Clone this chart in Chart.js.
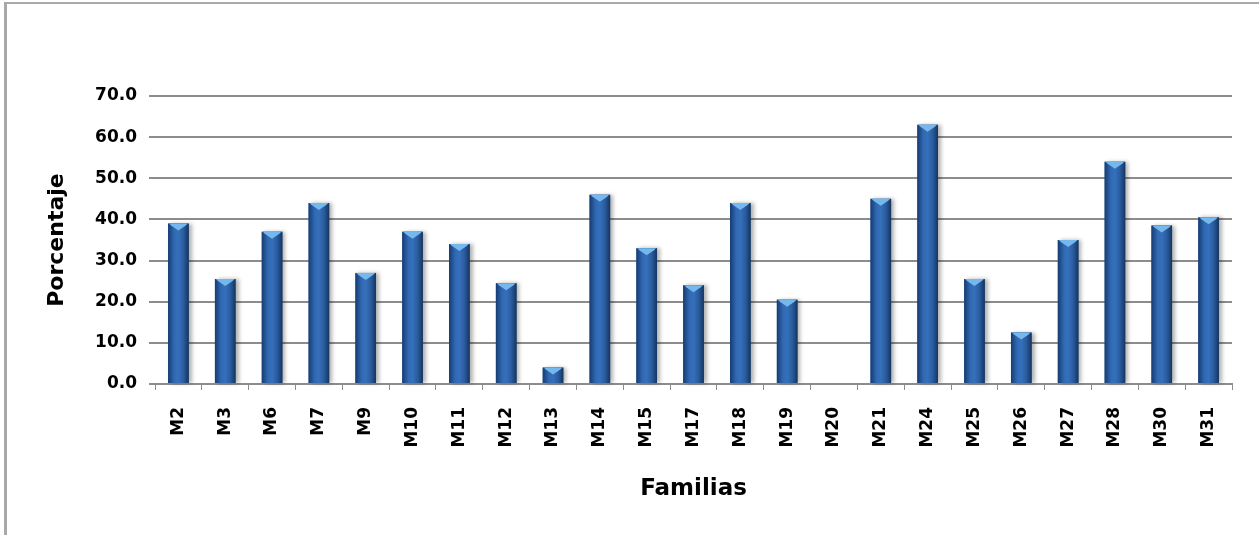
<!DOCTYPE html>
<html>
<head>
<meta charset="utf-8">
<title>Porcentaje por familia</title>
<script src="https://cdn.jsdelivr.net/npm/chart.js@4.4.1/dist/chart.umd.min.js"></script>
<style>
  html, body { margin: 0; padding: 0; background: #fff; }
  #wrap { position: relative; width: 1259px; height: 535px; }
  #frame {
    position: absolute; left: 4px; top: 2px; right: 0; bottom: 0;
    border-left: 3px solid #a9a9a9; border-top: 2px solid #a9a9a9;
    pointer-events: none;
  }
</style>
</head>
<body>
<div id="wrap">
  <canvas id="famChart" width="1259" height="535"></canvas>
  <div id="frame"></div>
</div>
<script>
// Familias y porcentaje de cada una
const familias = ['M2', 'M3', 'M6', 'M7', 'M9', 'M10', 'M11', 'M12', 'M13', 'M14', 'M15', 'M17',
                  'M18', 'M19', 'M20', 'M21', 'M24', 'M25', 'M26', 'M27', 'M28', 'M30', 'M31'];
const porcentaje = [39.0, 25.5, 37.0, 44.0, 27.0, 37.0, 34.0, 24.5, 4.0, 46.0, 33.0, 24.0,
                    44.0, 20.5, 0.0, 45.0, 63.0, 25.5, 12.5, 35.0, 54.0, 38.5, 40.5];
const yMin = 0, yMax = 70, yStep = 10;

const FONT = "'DejaVu Sans', sans-serif";

// Redraw each bar as a shaded column with a light cap on top
const barShade = {
  id: 'barShade',
  afterDatasetsDraw(chart) {
    const ctx = chart.ctx;
    chart.getDatasetMeta(0).data.forEach(bar => {
      const { x, y, base, width } = bar.getProps(['x', 'y', 'base', 'width'], true);
      const h = base - y;
      if (h <= 0.5) return;
      const left = x - width / 2;

      ctx.save();
      ctx.shadowColor = 'rgba(0,0,0,0.30)';
      ctx.shadowBlur = 4;
      ctx.shadowOffsetX = 3;
      const g = ctx.createLinearGradient(left, 0, left + width, 0);
      g.addColorStop(0, '#163c72');
      g.addColorStop(0.3, '#3169b3');
      g.addColorStop(0.5, '#3570bb');
      g.addColorStop(0.75, '#2a5b9e');
      g.addColorStop(1, '#14365f');
      ctx.fillStyle = g;
      ctx.fillRect(left, y, width, h);
      ctx.restore();

      // cap
      const capH = Math.min(7, h);
      ctx.save();
      ctx.fillStyle = '#74b8ee';
      ctx.beginPath();
      ctx.moveTo(left + 1, y);
      ctx.lineTo(left + width - 1, y);
      ctx.lineTo(left + width - 3, y + 2);
      ctx.lineTo(x, y + capH);
      ctx.lineTo(left + 3, y + 2);
      ctx.closePath();
      ctx.fill();
      ctx.restore();
    });
  }
};

new Chart(document.getElementById('famChart'), {
  type: 'bar',
  data: {
    labels: familias,
    datasets: [{
      data: porcentaje,
      backgroundColor: '#2a5b9e',
      borderWidth: 0,
      categoryPercentage: 1,
      barPercentage: 0.44
    }]
  },
  options: {
    responsive: false,
    animation: false,
    layout: { padding: { top: 96, right: 27, bottom: 32, left: 44 } },
    plugins: {
      legend: { display: false },
      tooltip: { enabled: false }
    },
    scales: {
      y: {
        min: yMin,
        max: yMax,
        afterFit(scale) { scale.width = 155 - 44; },
        ticks: {
          stepSize: yStep,
          color: '#000',
          padding: 12,
          font: { family: FONT, size: 17, weight: 'bold' },
          callback: v => v.toFixed(1)
        },
        grid: { color: '#8c8c8c', lineWidth: 2, tickLength: 6, tickColor: '#8c8c8c' },
        border: { display: false },
        title: {
          display: true,
          text: 'Porcentaje',
          color: '#000',
          padding: { top: 0, bottom: 0 },
          font: { family: FONT, size: 22, weight: 'bold' }
        }
      },
      x: {
        afterFit(scale) { scale.height = 535 - 32 - 384; },
        ticks: {
          color: '#000',
          minRotation: 90,
          maxRotation: 90,
          padding: 17,
          font: { family: FONT, size: 17, weight: 'bold' }
        },
        grid: { drawOnChartArea: false, drawTicks: true, tickLength: 6, color: '#8c8c8c', offset: true },
        border: { display: true, color: '#8c8c8c', width: 2 },
        title: {
          display: true,
          text: 'Familias',
          color: '#000',
          padding: { top: 0, bottom: 0 },
          font: { family: FONT, size: 23, weight: 'bold' }
        }
      }
    }
  },
  plugins: [barShade]
});
</script>
</body>
</html>
